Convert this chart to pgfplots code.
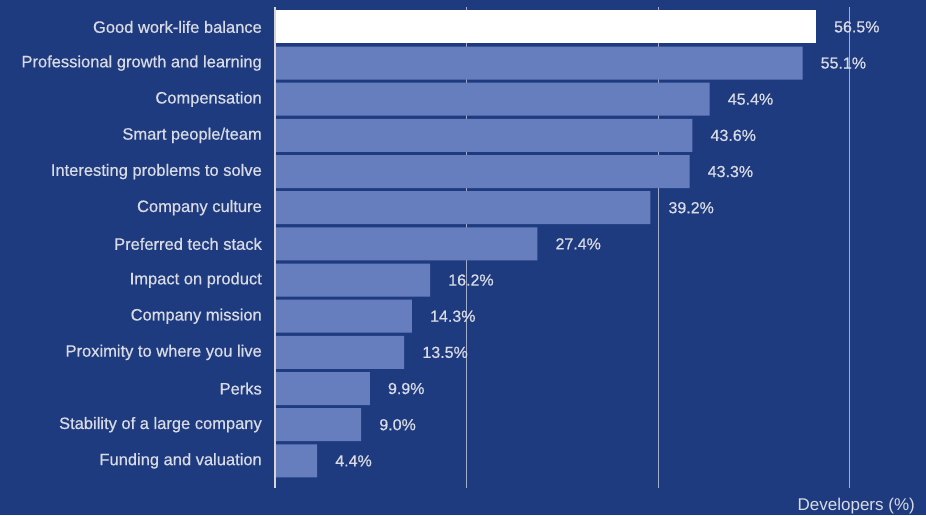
\documentclass[border=0pt]{standalone}
\usepackage{pgfplots}
\pgfplotsset{compat=1.18}
\usepackage{fontspec}
\setmainfont{Liberation Sans}
\newfontfamily\medfont{Liberation Sans}
\definecolor{bg}{HTML}{1F3B80}
\definecolor{barc}{HTML}{667EBE}
\definecolor{txt}{HTML}{D8DBE4}
\definecolor{gridc}{HTML}{A3ACCB}
\definecolor{axc}{HTML}{D6D6D6}
\begin{document}
\begin{tikzpicture}[x=1pt,y=1pt]
\fill[bg] (0,0) rectangle (926,515);
\begin{axis}[
  at={(275pt,27pt)}, anchor=south west,
  scale only axis, width=651pt, height=481pt,
  xmin=0, xmax=68, ymin=-0.55, ymax=12.75, y dir=reverse,
  clip=false,
  xbar, bar width=33pt, bar shift=0pt,
  axis line style={draw=none},
  xtick={20,40,60}, xticklabels={},
  xmajorgrids, major grid style={draw=gridc, line width=0.8pt},
  major tick length=0pt,
  ytick={0,...,12},
  yticklabels={Good work-life balance,Professional growth and learning,Compensation,Smart people/team,Interesting problems to solve,Company culture,Preferred tech stack,Impact on product,Company mission,Proximity to where you live,Perks,Stability of a large company,Funding and valuation},
  yticklabel style={font=\medfont\addfontfeature{FakeBold=0.5}\fontsize{16.5}{19}\selectfont, text=txt, inner sep=0pt, xshift=-13pt},
  nodes near coords={\pgfmathprintnumber[fixed,fixed zerofill,precision=1,assume math mode=true]{\pgfplotspointmeta}\%},
  every node near coord/.append style={font=\medfont\addfontfeature{FakeBold=0.5}\fontsize{16}{19}\selectfont, text=txt, anchor=west, inner sep=0pt, xshift=18pt},
  point meta=x,
]
\addplot[fill=white, draw=none] coordinates {(56.5,0)};
\addplot[fill=barc, draw=none] coordinates {
(55.1,1) (45.4,2) (43.6,3) (43.3,4) (39.2,5) (27.4,6) (16.2,7) (14.3,8) (13.5,9) (9.9,10) (9.0,11) (4.4,12)};
\draw[axc, line width=2.6pt] (axis cs:0,-0.55) -- (axis cs:0,12.75);
\end{axis}
\node[anchor=base east, text=txt, font=\fontsize{17}{20}\selectfont, inner sep=0pt] at (915,5) {Developers (\%)};
\pgfresetboundingbox
\path[use as bounding box] (0,0) rectangle (926,515);
\end{tikzpicture}
\end{document}
